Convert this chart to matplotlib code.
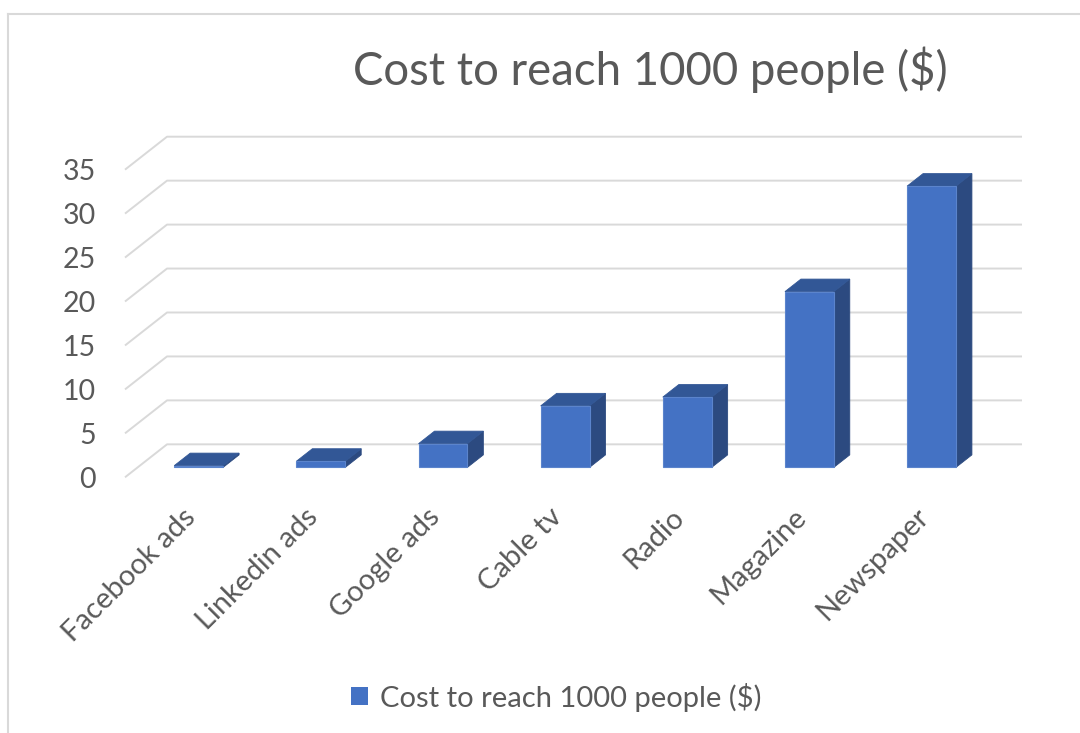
import matplotlib
matplotlib.use("Agg")
import matplotlib.pyplot as plt
from matplotlib.patches import Polygon, Patch
from matplotlib.lines import Line2D

plt.rcParams['font.family'] = ['Lato', 'DejaVu Sans']

# ── DATA ─────────────────────────────────────────────────────
categories = ["Facebook ads", "Linkedin ads", "Google ads", "Cable tv",
              "Radio", "Magazine", "Newspaper"]
costs = [0.2, 0.7, 2.7, 7, 8, 20, 32]
series_name = "Cost to reach 1000 people ($)"
yticks = [0, 5, 10, 15, 20, 25, 30, 35]

# ── STYLE ────────────────────────────────────────────────────
FRONT = "#4472C4"
SIDE = "#2C4A80"
TOP = "#325796"
EDGE = "#5B84CC"
GRID = "#D9D9D9"
TEXT = "#595959"

# fake 3d: depth offset of the back wall in data units
DX, DY = 0.344, 3.75
Z0, Z1 = 0.30, 0.68      # bar front / back depth
BAR_W = 0.40

fig = plt.figure(figsize=(10.8, 7.33), dpi=100)
ax = fig.add_axes([125 / 1080, 1 - 477.3 / 733, 897 / 1080, 340.6 / 733])
n = len(categories)
ax.set_xlim(0, n + DX)
ax.set_ylim(0, 38.75)
for s in ax.spines.values():
    s.set_visible(False)
ax.set_xticks([])
ax.set_yticks(yticks)
ax.tick_params(axis="y", length=0, pad=21, labelsize=20.5, labelcolor=TEXT)

# gridlines: side wall diagonal + back wall
for v in yticks:
    ax.plot([0, DX, n + DX], [v, v + DY, v + DY], color=GRID, lw=1.4,
            zorder=1, clip_on=False, solid_capstyle="butt")


def proj(x, y, z):
    return (x + z * DX, y + z * DY)


# ── BARS ─────────────────────────────────────────────────────
for i, v in enumerate(costs):
    xl = i + (1 - BAR_W) / 2
    xr = xl + BAR_W
    front = [proj(xl, 0, Z0), proj(xr, 0, Z0), proj(xr, v, Z0), proj(xl, v, Z0)]
    side = [proj(xr, 0, Z0), proj(xr, 0, Z1), proj(xr, v, Z1), proj(xr, v, Z0)]
    top = [proj(xl, v, Z0), proj(xr, v, Z0), proj(xr, v, Z1), proj(xl, v, Z1)]
    ax.add_patch(Polygon(side, closed=True, fc=SIDE, ec=SIDE, lw=0.6, zorder=3))
    ax.add_patch(Polygon(top, closed=True, fc=TOP, ec=TOP, lw=0.6, zorder=3))
    ax.add_patch(Polygon(front, closed=True, fc=FRONT, ec=EDGE, lw=0.8, zorder=4))

# category labels, rotated 45°
for i, name in enumerate(categories):
    ax.text(i + 0.47, -3.0, name, rotation=45, rotation_mode="anchor",
            ha="right", va="top", fontsize=21, color=TEXT, clip_on=False)

# title and legend
fig.text(650 / 1080, 1 - 85 / 733, series_name, ha="center", va="baseline",
         fontsize=32.8, color=TEXT)
fig.legend(handles=[Patch(facecolor=FRONT, label=series_name)], loc="center",
           bbox_to_anchor=(556 / 1080, 1 - 697 / 733), frameon=False,
           fontsize=21, labelcolor=TEXT, handlelength=0.6, handleheight=0.6,
           handletextpad=0.4)

# chart area border (cropped on right and bottom)
fig.add_artist(Line2D([8 / 1080, 8 / 1080], [0, 1 - 14 / 733],
                      transform=fig.transFigure, color=GRID, lw=1.5))
fig.add_artist(Line2D([8 / 1080, 1], [1 - 14 / 733, 1 - 14 / 733],
                      transform=fig.transFigure, color=GRID, lw=1.5))

fig.savefig("out.png", dpi=100)
